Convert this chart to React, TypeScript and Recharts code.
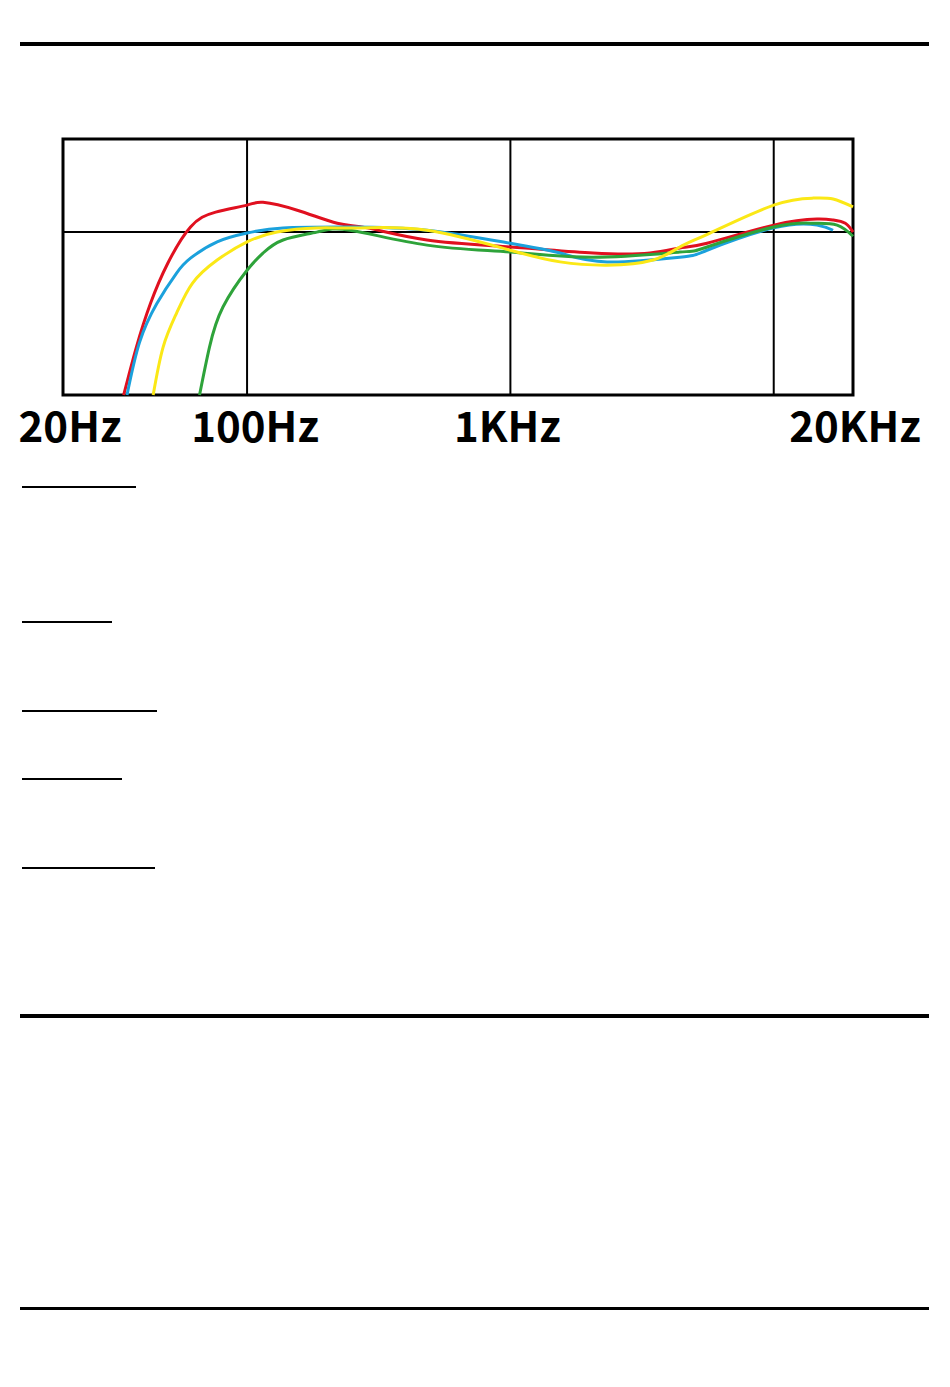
import React from 'react';
import {
  LineChart,
  Line,
  XAxis,
  YAxis,
  ReferenceLine,
  ReferenceArea,
} from 'recharts';

// frequency ticks shown under the plot
const tickFreqs = [20, 100, 1000, 20000];
const tickLabels = ['20Hz', '100Hz', '1KHz', '20KHz'];
const gridFreqs = [100, 1000, 10000];

// red curve
const redFreq = [34, 38, 43, 50, 61, 76, 100, 115, 155, 220, 286, 482, 1000, 2060, 3390, 4400, 5580, 10000, 14600, 16800, 18700, 20000];
const redDb = [-35, -24.7, -15.3, -6.7, 1.1, 4.3, 5.8, 6.4, 4.7, 1.9, 0.9, -1.7, -3.2, -4.5, -4.5, -3.4, -2.4, 1.5, 2.8, 2.6, 1.9, 0];

// blue curve
const blueFreq = [35, 39, 45.5, 54, 61, 77, 100, 137, 246, 482, 1000, 1544, 2330, 4400, 5580, 10000, 14600, 16800];
const blueDb = [-35, -23.8, -15.3, -8.8, -5.6, -2.1, -0.2, 0.9, 1.1, 0.4, -2.4, -4.5, -6.4, -5.4, -3.9, 0.9, 1.5, 0.4];

// yellow curve
const yellowFreq = [44, 48, 54, 62, 77, 100, 130, 184, 269, 482, 1000, 1544, 2330, 3480, 4400, 5730, 10000, 14100, 16800, 20000];
const yellowDb = [-35, -24.7, -17.4, -11, -6, -2.1, 0, 0.9, 0.9, 0.4, -3.9, -6.4, -7.1, -6, -3.2, -0.2, 5.8, 7.3, 7.1, 5.4];

// green curve
const greenFreq = [66, 72, 81, 100, 115, 137, 184, 246, 482, 1000, 2060, 4400, 5580, 10000, 14100, 17400, 20000];
const greenDb = [-35, -24.7, -16.1, -8.2, -4.5, -1.7, 0, 0.4, -2.8, -4.3, -5.4, -4.3, -3.2, 1.1, 1.9, 1.5, -0.9];

const zip = (f: number[], d: number[]) => f.map((freq, i) => ({ freq, db: d[i] }));

const series = [
  { name: 'red', color: '#e0101f', data: zip(redFreq, redDb) },
  { name: 'blue', color: '#1ba1dc', data: zip(blueFreq, blueDb) },
  { name: 'green', color: '#2ea33a', data: zip(greenFreq, greenDb) },
  { name: 'yellow', color: '#fbe816', data: zip(yellowFreq, yellowDb) },
];

const rules = [
  { top: 42, height: 4, left: 20, width: 909 },
  { top: 1014, height: 4, left: 20, width: 909 },
  { top: 1307, height: 3, left: 20, width: 909 },
  { top: 486, height: 2, left: 22, width: 114 },
  { top: 621, height: 2, left: 22, width: 90 },
  { top: 710, height: 2, left: 22, width: 135 },
  { top: 778, height: 2, left: 22, width: 100 },
  { top: 867, height: 2, left: 22, width: 133 },
];

const FreqTick = (props: any) => {
  const { x, y, payload } = props;
  const i = tickFreqs.indexOf(payload.value);
  const shift = [7, 8, -3, 2][i] ?? 0;
  return (
    <text
      x={x + shift}
      y={y}
      dy="0.71em"
      textAnchor="middle"
      fill="#000"
      fontSize={42}
      fontWeight={700}
      fontFamily="'Noto Sans CJK SC', 'Noto Sans', sans-serif"
    >
      {tickLabels[i]}
    </text>
  );
};

const App: React.FC = () => {
  return (
    <div style={{ position: 'relative', width: 950, height: 1387, margin: -8, background: '#fff' }}>
      {rules.map((r, i) => (
        <div key={i} style={{ position: 'absolute', background: '#000', ...r }} />
      ))}
      <div style={{ position: 'absolute', left: 0, top: 0 }}>
        <LineChart
          width={950}
          height={455}
          margin={{ top: 139, right: 97, bottom: 0, left: 63 }}
        >
          <XAxis
            dataKey="freq"
            type="number"
            scale="log"
            domain={[20, 20000]}
            ticks={tickFreqs}
            interval={0}
            axisLine={false}
            tickLine={false}
            tickMargin={11}
            height={60}
            tick={<FreqTick />}
          />
          <YAxis type="number" domain={[-35, 20]} hide />
          {gridFreqs.map((f) => (
            <ReferenceLine key={f} x={f} stroke="#000" strokeWidth={2} />
          ))}
          <ReferenceLine y={0} stroke="#000" strokeWidth={2} />
          <ReferenceArea
            x1={20}
            x2={20000}
            y1={-35}
            y2={20}
            fill="none"
            fillOpacity={0}
            stroke="#000"
            strokeWidth={3}
          />
          {series.map((s) => (
            <Line
              key={s.name}
              data={s.data}
              dataKey="db"
              type="natural"
              stroke={s.color}
              strokeWidth={3}
              dot={false}
              isAnimationActive={false}
            />
          ))}
        </LineChart>
      </div>
    </div>
  );
};

export default App;
